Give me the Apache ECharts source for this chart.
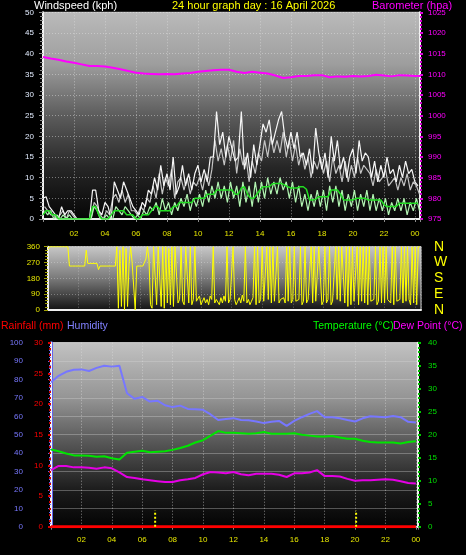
<!DOCTYPE html>
<html><head><meta charset="utf-8">
<script src="https://cdn.jsdelivr.net/npm/echarts@6/dist/echarts.min.js"></script>
<style>html,body{margin:0;padding:0;background:#000;}#c{width:466px;height:555px;}</style>
</head><body><div id="c"></div>
<script>
// ---------- DATA ----------
const hourLabels = ['', '02', '04', '06', '08', '10', '12', '14', '16', '18', '20', '22', '00'];
const WIND_STEP = 0.2;   // hours between wind samples
const windGust = [
5,5.4,3,2,1, 0,3,1,2,2, 1,0,0,0,0, 0,7,7,2,1, 4,3,0,9,7, 5,9,7,5,3,
2,1,4,3,7, 6,10,7,13,8, 11,7,15,6,8, 13,8,11,7,11, 13,9,12,9,15, 15,26,18,21,15,
20,17,14,15,26, 12,16,10,18,13, 18,23,21,24,18, 21,24,26,20,17, 21,17,21,15,16, 13,17,11,22,16,
12,16,10,20,14, 19,12,15,10,15, 17,11,19,14,16, 15,10,14,9,13, 10,15,11,12,9, 13,10,14,11,12,
9,8];
const windMax = [
3,2,1,1,0, 1,2,0,2,1, 0,0,0,0,0, 0,4,3,1,0, 2,1,5,6,4, 7,4,6,2,2,
1,3,2,5,4, 8,5,11,6,10, 8,12,5,9,10, 7,10,6,9,8, 10,7,11,8,12, 19,14,17,13,18,
14,19,11,17,13, 15,9,14,11,16, 14,19,15,20,16, 19,16,21,15,19, 14,18,13,16,12, 15,10,14,12,15,
11,14,9,15,11, 13,9,14,9,13, 10,15,11,13,12, 11,8,12,9,10, 12,8,9,10,7, 10,8,11,7,9,
8,6];
const windSpeed = [
2,1,2,0,1, 0,1,0,1,0, 0,0,0,0,0, 0,3,2,0,0, 1,0,0,3,2, 1,3,2,1,0,
1,0,2,1,3, 2,4,1,5,2, 4,1,4,2,5, 3,6,2,5,3, 6,3,7,4,8, 5,9,5,8,4,
9,5,8,3,9, 4,8,3,9,4, 9,5,10,6,9, 6,10,7,9,5, 9,4,8,3,6, 2,6,3,7,3,
7,2,8,4,8, 3,7,2,6,3, 7,2,6,3,7, 2,6,2,5,2, 5,1,4,2,5, 2,5,1,4,2,
5,2];
const windAvg = [
1,2,2,1,1, 0,0,0,0,0, 0,0,0,0,0, 0,3,3,1,0, 0,0,1,2,2, 2,2,1,1,1,
0,0,1,1,1, 2,3,3,2,2, 2,2,3,3,4, 4,4,4,4,5, 5,5,5,6,6, 6,7,7,7,7,
7,7,6,6,7.5, 7.8,6,5,5,6, 7,7.8,7.8,7.8,8.5, 8.6,8.6,8.6,8.2,7.8, 7.5,7.5,7.5,7.8,7.8, 7.2,4.6,4.6,4.8,5.4,
5.4,5.4,5.4,7,7, 7,6,4.6,4.6,4.6, 4.6,5,5,5,5, 4.6,4.6,4.6,4.6,4.6, 3.5,3,3,3,3, 3.8,3.8,3.8,3.8,3.8,
3.8,3.8];
const BARO_STEP = 0.5;
const barometer = [
1014.2,1013.8,1013.5,1013.1,1012.8,1012.4,1012.0,1012.0,1011.9,1011.6,
1011.2,1010.8,1010.4,1010.2,1010.1,1010.0,1010.1,1010.0,1010.2,1010.3,
1010.6,1010.8,1011.0,1011.1,1011.1,1010.6,1010.3,1010.6,1010.4,1010.2,
1009.7,1009.1,1009.3,1009.6,1009.6,1009.8,1009.8,1009.3,1009.5,1009.4,
1009.6,1009.5,1009.6,1009.9,1009.7,1009.5,1009.8,1009.7,1009.6,1009.6];
const DIR_STEP = 0.1;
const windDir = [
345,360,360,360,360,360,360,360,360,360,
360,360,360,360,250,250,250,250,250,250,
250,250,250,250,250,340,265,265,265,265,
265,265,265,230,250,250,250,250,250,250,
250,250,250,250,250,360,10,340,20,360,
0,350,20,270,360,270,270,0,250,250,
250,250,250,250,290,360,290,30,10,360,
360,30,360,360,20,360,10,360,40,350,
30,360,20,360,350,40,60,360,50,30,
360,350,40,360,30,60,360,50,40,80,
30,50,70,40,60,30,80,60,360,40,
60,50,30,70,40,80,50,360,40,60,
50,360,60,30,50,70,40,85,50,360,
40,60,30,50,70,360,30,360,40,60,
360,50,40,360,60,360,40,360,50,60,
360,40,60,50,70,40,360,50,360,40,
60,360,50,40,60,360,30,50,360,40,
60,50,360,40,360,50,40,360,360,30,
50,360,40,60,360,30,50,40,360,60,
360,50,360,360,40,360,20,360,30,360,
50,40,360,30,360,50,360,40,360,30,
360,50,40,60,360,30,50,360,40,360,
40,360,60,50,40,360,30,360,50,40,
60,360,40,360,50,360,60,30,360,40,
360,30,360,360];
const CLIMATE_STEP = 0.5;
const humidity = [
78.5,82,84.2,85.3,85.5,84.6,86.3,87.5,87.0,87.5,
72.5,69.5,70.5,68,68.5,66,65,65.8,64,63.8,
63.5,61,58,58.5,59,58,57.8,57.2,56.3,57,
57.5,54.8,57.5,59.5,61.3,62.8,59.5,59.5,58.9,58,
57.2,58.9,60,59.8,59.5,60.2,59.5,57,56.6];
const temperature = [
16.8,16.4,15.9,15.5,15.5,15.4,15.2,15.3,14.9,14.6,
16.1,16.3,16.5,16.2,16.3,16.4,16.7,17.1,17.6,18.3,
18.8,19.8,20.8,20.4,20.4,20.3,20.2,20.3,20.6,20.2,
20.2,20.2,20.3,20.0,19.8,19.6,19.6,19.7,19.4,19.1,
19.1,18.7,18.4,18.3,18.3,18.3,18.1,18.4,18.6];
const dewPoint = [
12.3,13.2,13.2,12.9,12.9,12.8,12.6,12.9,12.7,11.8,
10.8,10.6,10.3,10.1,9.9,9.7,9.7,10.1,10.3,10.6,
11.4,11.9,11.8,11.6,11.9,11.4,11.2,11.5,11.5,11.5,
11.3,10.8,11.6,11.6,11.8,12.3,11.0,11.0,10.9,10.4,
10.0,10.1,10.1,10.2,10.3,10.2,9.9,9.5,9.4];
const rainfall = [
0,0,0,0,0,0,0,0,0,0, 0,0,0,0,0,0,0,0,0,0, 0,0,0,0,0,0,0,0,0,0,
0,0,0,0,0,0,0,0,0,0, 0,0,0,0,0,0,0,0,0];
const sunEvents = [6.85, 20.07];   // sunrise / sunset hours
const dirLabels = {0:'N', 90:'E', 180:'S', 270:'W', 360:'N'};

// ---------- CHART ----------
const FONT = '"Liberation Sans", Arial, sans-serif';
const pairs = (arr, step, off) => arr.map((v, i) => [i * step + (off || 0), v]);
const grad = (stops) => new echarts.graphic.LinearGradient(0, 0, 0, 1,
  stops.map(s => ({offset: s[0], color: s[1]})));
const hourFmt = v => {
  const k = v / 2;
  return (Number.isInteger(k) && k > 0 && k < hourLabels.length) ? hourLabels[k] : '';
};
const plain = v => String(v);
const dotted = (c) => ({show: true, lineStyle: {color: c, type: [1, 2], width: 1}});
const sunMarkerHeight = 3.5;

const chart = echarts.init(document.getElementById('c'), null, {renderer: 'canvas'});
const line = (name, data, xi, yi, color, width, extra) => Object.assign({
  name, type: 'line', data, xAxisIndex: xi, yAxisIndex: yi, showSymbol: false,
  symbol: 'none', animation: false, lineStyle: {color, width}, itemStyle: {color}
}, extra || {});

chart.setOption({
  backgroundColor: '#000',
  animation: false,
  textStyle: {fontFamily: FONT},
  grid: [
    {left: 43, right: 46, top: 12.3, bottom: 336, show: true, borderColor: '#cfcfcf', borderWidth: 1,
     backgroundColor: grad([[0, '#bababa'], [0.25, '#9e9e9e'], [0.5, '#5c5c5c'], [0.75, '#262626'], [1, '#050505']])},
    {left: 48, right: 45, top: 246.7, bottom: 245, show: true, borderColor: '#cfcfcf', borderWidth: 1,
     backgroundColor: grad([[0, '#c8c8c8'], [0.5, '#7a7a7a'], [1, '#121212']])},
    {left: 51, right: 48, top: 342.7, bottom: 28.3, show: true, borderColor: '#cfcfcf', borderWidth: 1,
     backgroundColor: grad([[0, '#c2c2c2'], [0.3, '#959595'], [0.55, '#555555'], [0.8, '#1c1c1c'], [1, '#030303']])}
  ],
  xAxis: [
    {type: 'value', gridIndex: 0, min: 0, max: 24.33, interval: 2,
     axisLine: {lineStyle: {color: '#efefef', width: 2}},
     axisTick: {show: true, length: 3, lineStyle: {color: '#8a8a8a'}},
     axisLabel: {color: '#e6e600', fontSize: 8, margin: 11, formatter: hourFmt, fontFamily: FONT},
     splitLine: dotted('rgba(225,225,225,0.55)')},
    {type: 'value', gridIndex: 1, min: 0, max: 24.38, interval: 2,
     axisLine: {lineStyle: {color: '#efefef', width: 2}},
     axisTick: {show: false}, axisLabel: {show: false},
     splitLine: dotted('rgba(225,225,225,0.35)')},
    {type: 'value', gridIndex: 2, min: 0, max: 24.14, interval: 2,
     axisLine: {lineStyle: {color: '#efefef', width: 2}},
     axisTick: {show: true, length: 3, lineStyle: {color: '#8a8a8a'}},
     axisLabel: {color: '#e6e600', fontSize: 8, margin: 9, formatter: hourFmt, fontFamily: FONT},
     splitLine: dotted('rgba(225,225,225,0.55)')}
  ],
  yAxis: [
    {type: 'value', gridIndex: 0, position: 'left', min: 0, max: 50, interval: 5,
     axisLine: {show: true, lineStyle: {color: '#f2f2f2', width: 2}},
     axisTick: {show: true, length: 4, lineStyle: {color: '#8c8c8c'}},
     minorTick: {show: true, splitNumber: 5, length: 3, lineStyle: {color: '#8c8c8c'}},
     axisLabel: {color: '#e2ecff', fontSize: 8, margin: 9, fontFamily: FONT, formatter: plain},
     splitLine: dotted('rgba(230,230,230,0.45)')},
    {type: 'value', gridIndex: 0, position: 'right', min: 975, max: 1025, interval: 5,
     axisLine: {show: true, lineStyle: {color: '#f2f2f2', width: 2}},
     axisTick: {show: true, length: 3, lineStyle: {color: '#dd00dd', width: 2}},
     minorTick: {show: true, splitNumber: 5, length: 2, lineStyle: {color: '#cc00cc', width: 2}},
     axisLabel: {color: '#ff00ff', fontSize: 8, margin: 8, fontFamily: FONT, formatter: plain},
     splitLine: {show: false}},
    {type: 'value', gridIndex: 1, position: 'left', min: 0, max: 360, interval: 90,
     axisLine: {show: true, lineStyle: {color: '#f2f2f2', width: 2}},
     axisTick: {show: true, length: 4, lineStyle: {color: '#a0a000'}},
     minorTick: {show: true, splitNumber: 5, length: 3, lineStyle: {color: '#a0a000'}},
     axisLabel: {color: '#e6e600', fontSize: 8, margin: 8, fontFamily: FONT, formatter: plain},
     splitLine: dotted('rgba(230,230,230,0.35)')},
    {type: 'value', gridIndex: 1, position: 'right', min: 0, max: 360, interval: 90,
     axisLine: {show: false}, axisTick: {show: false},
     axisLabel: {color: '#ffff00', fontSize: 14, margin: 13, fontFamily: FONT,
                 formatter: v => dirLabels[v] || ''},
     splitLine: {show: false}},
    {type: 'value', gridIndex: 2, position: 'left', offset: 21, min: 0, max: 100, interval: 10,
     axisLine: {show: true, lineStyle: {color: '#6464f0', width: 3}},
     axisTick: {show: true, length: 3, lineStyle: {color: '#6464f0'}},
     minorTick: {show: true, splitNumber: 5, length: 2, lineStyle: {color: '#6464f0'}},
     axisLabel: {color: '#7878ff', fontSize: 8, margin: 7, fontFamily: FONT, formatter: plain},
     splitLine: {show: true, lineStyle: {color: 'rgba(215,215,215,0.35)', width: 1}}},
    {type: 'value', gridIndex: 2, position: 'left', min: 0, max: 30, interval: 5,
     axisLine: {show: true, lineStyle: {color: '#f2f2f2', width: 2}},
     axisTick: {show: true, length: 3, lineStyle: {color: '#dd0000', width: 2}},
     minorTick: {show: true, splitNumber: 5, length: 2, lineStyle: {color: '#cc0000', width: 2}},
     axisLabel: {color: '#ff0000', fontSize: 8, margin: 8, fontFamily: FONT, formatter: plain},
     splitLine: {show: false}},
    {type: 'value', gridIndex: 2, position: 'right', min: 0, max: 40, interval: 5,
     axisLine: {show: true, lineStyle: {color: '#f2f2f2', width: 2}},
     axisTick: {show: true, length: 3, lineStyle: {color: '#00cc00', width: 2}},
     minorTick: {show: true, splitNumber: 5, length: 2, lineStyle: {color: '#00bb00', width: 2}},
     axisLabel: {color: '#00e000', fontSize: 8, margin: 10, fontFamily: FONT, formatter: plain},
     splitLine: {show: false}}
  ],
  graphic: [
    {type: 'text', left: 34, top: 0, style: {text: 'Windspeed (kph)', fill: '#ffffff', font: '11px ' + FONT}},
    {type: 'text', left: 172, top: 0, style: {text: '24 hour graph day : 16 April 2026', fill: '#ffff00', font: '11px ' + FONT}},
    {type: 'text', left: 372, top: 0, style: {text: 'Barometer (hpa)', fill: '#ff00ff', font: '11px ' + FONT}},
    {type: 'text', left: 1, top: 321, style: {text: 'Rainfall (mm)', fill: '#ff0000', font: '10.5px ' + FONT}},
    {type: 'text', left: 67, top: 321, style: {text: 'Humidity', fill: '#8080ff', font: '10.5px ' + FONT}},
    {type: 'text', left: 313, top: 321, style: {text: 'Temperature (°C)', fill: '#00ff00', font: '10.5px ' + FONT}},
    {type: 'text', left: 393, top: 321, style: {text: 'Dew Point (°C)', fill: '#ff00ff', font: '10.5px ' + FONT}}
  ],
  series: [
    line('Wind max', pairs(windMax, WIND_STEP, 0.1), 0, 0, '#c4c4c4', 1.2),
    line('Gust', pairs(windGust, WIND_STEP), 0, 0, '#f6f6f6', 1.2),
    line('Wind speed', pairs(windSpeed, WIND_STEP, 0.1), 0, 0, '#b2f5b2', 1.2),
    line('Average', pairs(windAvg, WIND_STEP), 0, 0, '#22dd22', 1.5),
    line('Barometer', pairs(barometer, BARO_STEP), 0, 1, '#ff00ff', 2),
    line('Direction', pairs(windDir, DIR_STEP), 1, 2, '#ffff00', 1),
    line('Humidity', pairs(humidity, CLIMATE_STEP), 2, 4, '#7777ff', 2),
    line('Temperature', pairs(temperature, CLIMATE_STEP), 2, 6, '#00e400', 2),
    line('Dew Point', pairs(dewPoint, CLIMATE_STEP), 2, 6, '#e400e4', 2),
    line('Rainfall', pairs(rainfall, CLIMATE_STEP), 2, 5, '#ff0000', 3),
    ...sunEvents.map((h, i) => line('Sun' + i, [[h, 0], [h, sunMarkerHeight]], 2, 6, '#ffff00', 2,
      {lineStyle: {color: '#ffff00', width: 2, type: [2, 2]}}))
  ]
});
</script>
</body></html>
